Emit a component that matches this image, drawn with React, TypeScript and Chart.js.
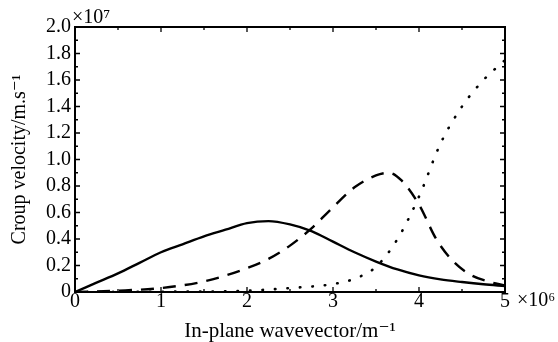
import React, { useEffect, useRef } from "react";
import { Chart, registerables } from "chart.js";

Chart.register(...registerables);

// x in units of 1e6 m^-1, y in units of 1e7 m/s
const solidX = [0, 0.25, 0.5, 0.75, 1.0, 1.25, 1.5, 1.75, 2.0, 2.25, 2.5, 2.75, 3.0, 3.25, 3.5, 3.75, 4.0, 4.25, 4.5, 4.75, 5.0];
const solidY = [0, 0.07, 0.14, 0.22, 0.3, 0.36, 0.42, 0.47, 0.52, 0.535, 0.51, 0.46, 0.38, 0.3, 0.23, 0.17, 0.125, 0.095, 0.075, 0.058, 0.045];

const dashedX = [0, 0.5, 1.0, 1.5, 2.0, 2.25, 2.5, 2.75, 3.0, 3.25, 3.5, 3.65, 3.8, 4.0, 4.2, 4.4, 4.6, 4.8, 5.0];
const dashedY = [0, 0.01, 0.03, 0.08, 0.18, 0.25, 0.35, 0.48, 0.64, 0.79, 0.88, 0.9, 0.84, 0.66, 0.4, 0.23, 0.13, 0.08, 0.05];

const dottedX = [0, 1.0, 2.0, 2.5, 3.0, 3.25, 3.5, 3.75, 4.0, 4.25, 4.5, 4.75, 5.0];
const dottedY = [0, 0.002, 0.01, 0.03, 0.06, 0.1, 0.19, 0.4, 0.72, 1.12, 1.4, 1.6, 1.75];

const xTickLabels = ["0", "1", "2", "3", "4", "5"];
const yTickLabels = ["0", "0.2", "0.4", "0.6", "0.8", "1.0", "1.2", "1.4", "1.6", "1.8", "2.0"];

const xTitle = "In-plane wavevector/m⁻¹";
const yTitle = "Croup velocity/m.s⁻¹";
const yExp = "×10⁷";
const xExp = "×10⁶";

const FONT = "'Liberation Serif', 'DejaVu Serif', serif";

const pts = (xs: number[], ys: number[]) => xs.map((x, i) => ({ x, y: ys[i] }));

const frame = {
  id: "frameTicks",
  afterDraw(chart: any) {
    const { ctx, chartArea: a, scales } = chart;
    const xs = scales.x;
    const ys = scales.y;
    ctx.save();
    ctx.strokeStyle = "#000";
    ctx.lineWidth = 2;
    ctx.strokeRect(a.left, a.top, a.right - a.left, a.bottom - a.top);
    ctx.lineWidth = 1.3;
    for (let v = 0; v <= 5.0001; v += 0.5) {
      const px = xs.getPixelForValue(v);
      const len = Math.abs(v - Math.round(v)) < 1e-6 ? 5 : 3;
      ctx.beginPath();
      ctx.moveTo(px, a.bottom);
      ctx.lineTo(px, a.bottom - len);
      ctx.moveTo(px, a.top);
      ctx.lineTo(px, a.top + len);
      ctx.stroke();
    }
    for (let i = 0; i <= 20; i++) {
      const v = i * 0.1;
      const py = ys.getPixelForValue(v);
      const len = i % 2 === 0 ? 5 : 3;
      ctx.beginPath();
      ctx.moveTo(a.left, py);
      ctx.lineTo(a.left + len, py);
      ctx.moveTo(a.right, py);
      ctx.lineTo(a.right - len, py);
      ctx.stroke();
    }
    ctx.fillStyle = "#000";
    ctx.font = `20px ${FONT}`;
    ctx.textBaseline = "bottom";
    ctx.textAlign = "left";
    ctx.fillText(yExp, a.left - 3, a.top + 1);
    ctx.textBaseline = "middle";
    ctx.fillText(xExp, a.right + 12, a.bottom + 9);
    ctx.restore();
  },
};

export default function App() {
  const ref = useRef<HTMLCanvasElement>(null);
  useEffect(() => {
    if (!ref.current) return;
    const chart = new Chart(ref.current, {
      type: "scatter",
      data: {
        datasets: [
          {
            data: pts(solidX, solidY),
            showLine: true,
            borderColor: "#000",
            borderWidth: 2.4,
            pointRadius: 0,
            cubicInterpolationMode: "monotone",
          },
          {
            data: pts(dashedX, dashedY),
            showLine: true,
            borderColor: "#000",
            borderWidth: 2.4,
            borderDash: [13, 9],
            pointRadius: 0,
            cubicInterpolationMode: "monotone",
          },
          {
            data: pts(dottedX, dottedY),
            showLine: true,
            borderColor: "#000",
            borderWidth: 2.6,
            borderDash: [0.5, 12],
            borderCapStyle: "round",
            pointRadius: 0,
            cubicInterpolationMode: "monotone",
          },
        ],
      },
      options: {
        animation: false,
        responsive: false,
        layout: { padding: { left: 10, right: 53, top: 27, bottom: 0 } },
        plugins: { legend: { display: false }, tooltip: { enabled: false } },
        scales: {
          x: {
            type: "linear",
            min: 0,
            max: 5,
            border: { display: false },
            grid: { display: false, drawTicks: false, tickLength: 0 },
            ticks: {
              stepSize: 1,
              color: "#000",
              font: { family: FONT, size: 20, lineHeight: 1 },
              padding: 0,
              maxRotation: 0,
              callback: (v: any) => xTickLabels[Math.round(Number(v))] ?? "",
            },
            title: {
              display: true,
              text: xTitle,
              color: "#000",
              font: { family: FONT, size: 21, lineHeight: 1 },
              padding: { top: 5, bottom: 0 },
            },
            afterFit: (s: any) => {
              s.height = 50;
            },
          },
          y: {
            type: "linear",
            min: 0,
            max: 2,
            border: { display: false },
            grid: { display: false, drawTicks: false, tickLength: 0 },
            ticks: {
              stepSize: 0.2,
              color: "#000",
              font: { family: FONT, size: 20, lineHeight: 1 },
              padding: 4,
              callback: (v: any) => yTickLabels[Math.round(Number(v) / 0.2)] ?? "",
            },
            title: {
              display: true,
              text: yTitle,
              color: "#000",
              font: { family: FONT, size: 20, lineHeight: 1 },
              padding: { top: 0, bottom: 4 },
            },
            afterFit: (s: any) => {
              s.width = 65;
            },
          },
        },
      },
      plugins: [frame],
    } as any);
    return () => chart.destroy();
  }, []);
  return (
    <div style={{ position: "fixed", left: 0, top: 0, width: 558, height: 342, background: "#fff" }}>
      <canvas ref={ref} width={558} height={342} />
    </div>
  );
}
